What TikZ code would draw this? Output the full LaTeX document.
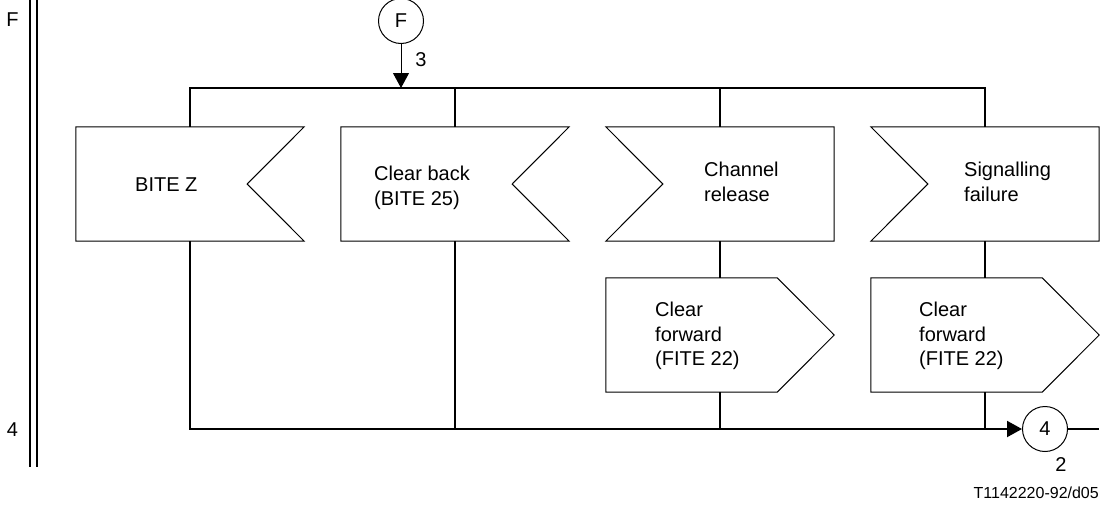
\documentclass[tikz,border=0pt]{standalone}
\usepackage{fontspec}
\setmainfont{Liberation Sans}
\usetikzlibrary{arrows.meta,calc}

% outlines of the signal symbols, drawn round a named box
\newcommand{\notchright}[1]{\draw[outline] (#1.north west) -- (#1.north east) -- ($(#1.east)+(-57,0)$) -- (#1.south east) -- (#1.south west) -- cycle;}
\newcommand{\notchleft}[1]{\draw[outline] (#1.north west) -- (#1.north east) -- (#1.south east) -- (#1.south west) -- ($(#1.west)+(57,0)$) -- cycle;}
\newcommand{\pointright}[1]{\draw[outline] (#1.north west) -- ($(#1.north east)+(-57,0)$) -- (#1.east) -- ($(#1.south east)+(-57,0)$) -- (#1.south west) -- cycle;}

\begin{document}
\begin{tikzpicture}[x=1pt,y=-1pt,
    every node/.style={font=\fontsize{20}{24.5}\selectfont},
    bus/.style={line width=2pt},
    outline/.style={line width=1pt},
    shapebox/.style={minimum width=228pt,minimum height=114pt,inner sep=0pt},
    sigtext/.style={anchor=west,align=left,inner sep=0pt},
    conn/.style={circle,draw,line width=1pt,minimum size=45pt,inner sep=0pt},
    tip/.style={-{Triangle[length=15pt,width=16pt]}}]
            \useasboundingbox (0,0) rectangle (1104,504);

            % left margin
            \draw[bus] (30,0) -- (30,467);
            \draw[bus] (37,0) -- (37,467);
            \node (lblF) at (12.5,20) {F};
            \node (lbl4) at (12.5,430) {4};

            \node[conn] (conF) at (401,21) {F};
            \coordinate (topbus) at (401,88);
            \draw[outline,tip] (conF) -- (topbus);
            \node (three) at (421,60) {3};

            \node[shapebox] (bitez)   at (190,184) {};
            \node[shapebox] (clrback) at (455,184) {};
            \node[shapebox] (chanrel) at (720,184) {};
            \node[shapebox] (sigfail) at (985,184) {};
            \notchright{bitez}
            \notchright{clrback}
            \notchleft{chanrel}
            \notchleft{sigfail}

            \node[sigtext] (bitez-t)   at (135,184.5) {BITE Z};
            \node[sigtext] (clrback-t) at (374,188) {Clear back\\(BITE 25)};
            \node[sigtext] (chanrel-t) at (704,182) {Channel\\release};
            \node[sigtext] (sigfail-t) at (964,182) {Signalling\\failure};

            \node[shapebox] (clrfwdA) at (720,335) {};
            \node[shapebox] (clrfwdB) at (985,335) {};
            \pointright{clrfwdA}
            \pointright{clrfwdB}
            \node[sigtext] (clrfwdA-t) at (655,336) {Clear\\forward\\(FITE 22)};
            \node[sigtext] (clrfwdB-t) at (919,336) {Clear\\forward\\(FITE 22)};

            \draw[bus] (bitez.north) |- (topbus) -| (sigfail.north);
            \draw[bus] (clrback.north) -- (clrback.north |- topbus);
            \draw[bus] (chanrel.north) -- (chanrel.north |- topbus);

            \draw[bus] (chanrel.south) -- (clrfwdA.north);
            \draw[bus] (sigfail.south) -- (clrfwdB.north);

            \node[conn] (con4) at (1045,429) {4};
            \coordinate (exit) at (1099,429);
            \draw[bus,tip] (bitez.south) |- (con4);
            \draw[bus] (clrback.south) -- (clrback.south |- con4);
            \draw[bus] (clrfwdA.south) -- (clrfwdA.south |- con4);
            \draw[bus] (clrfwdB.south) -- (clrfwdB.south |- con4);
            \draw[bus] (con4) -- (exit);
            \node (two) at (1061,465) {2};

            \node[font=\fontsize{16}{19}\selectfont,anchor=east,inner sep=0pt] (figid) at (1099,493) {T1142220-92/d05};
        \end{tikzpicture}
\end{document}
